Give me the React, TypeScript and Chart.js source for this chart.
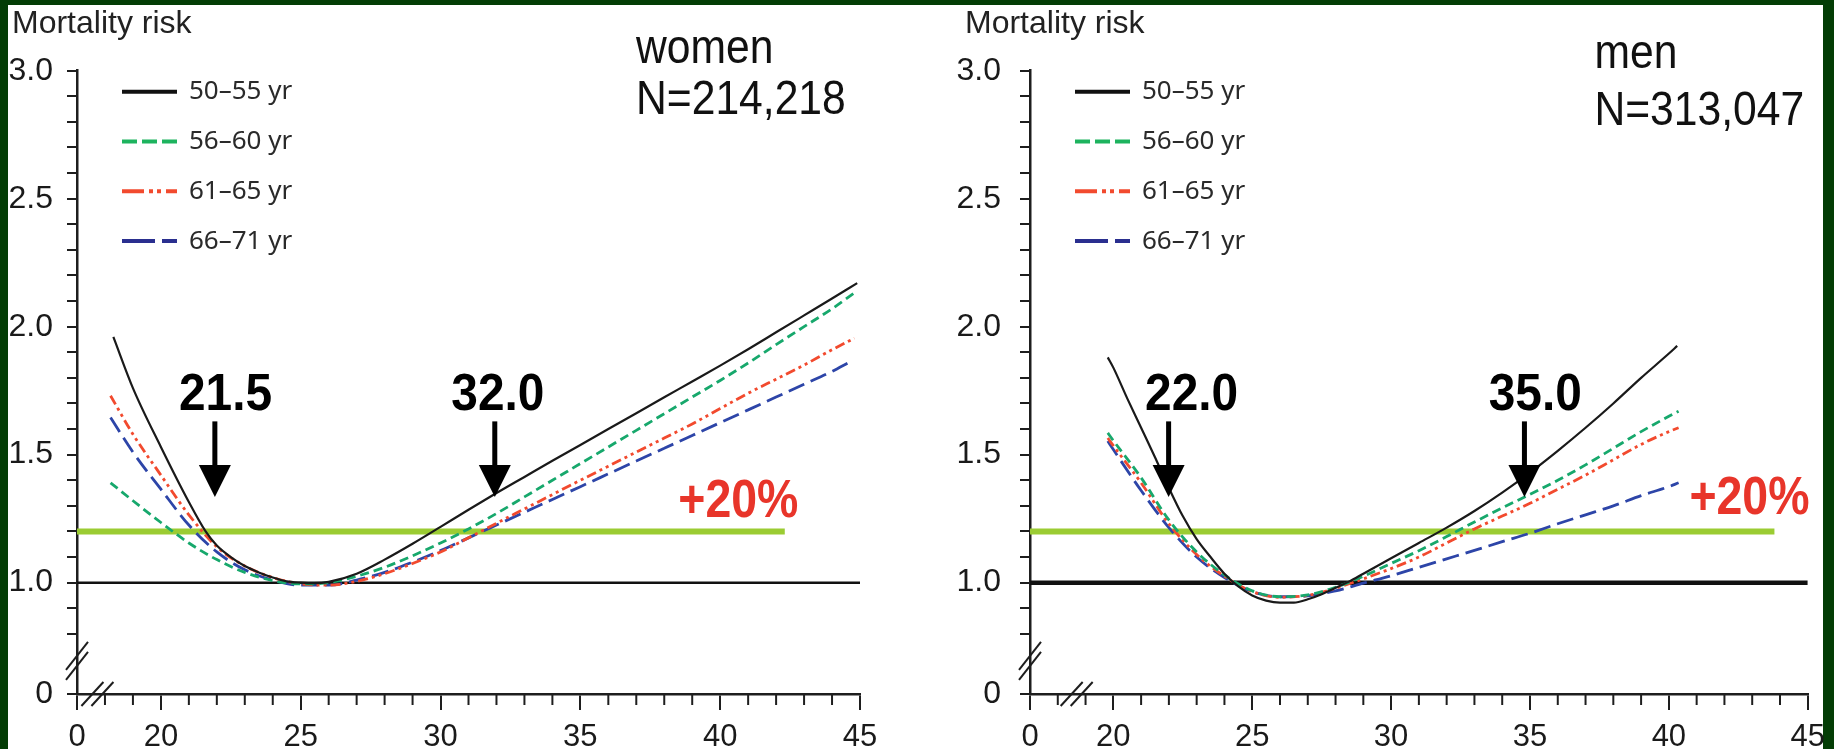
import React, { useEffect, useRef } from 'react';
import { Chart, registerables } from 'chart.js';

Chart.register(...registerables);

// ---------- axis definitions ----------
const Y_ZERO_POS = 0.565; // where the "0" label sits on the broken y axis
const Y_MINOR_TICKS = [0.8, 0.9, 1.0, 1.1, 1.2, 1.3, 1.4, 1.5, 1.6, 1.7, 1.8, 1.9, 2.0, 2.1, 2.2, 2.3, 2.4, 2.5, 2.6, 2.7, 2.8, 2.9, 3.0];
const Y_LABELED = [1.0, 1.5, 2.0, 2.5, 3.0];
const Y_MAX = 3.0;
const X_ZERO_POS = 17; // where the "0" label sits on the broken x axis
const X_MAJOR = [20, 25, 30, 35, 40, 45];
const X_MAX = 45;
const Y_BREAK = 0.694;

const SERIES_LABELS = ['50–55 yr', '56–60 yr', '61–65 yr', '66–71 yr'];

// ---------- women ----------
const W_X_5055 = [18.3, 19, 20, 21, 21.6, 22, 22.5, 23, 23.5, 24, 24.5, 25, 25.5, 26, 27, 28, 29, 30, 31, 32, 33, 34, 35, 36, 37, 38, 39, 40, 41, 42, 43, 44, 44.9];
const W_Y_5055 = [1.96, 1.76, 1.53, 1.315, 1.2, 1.145, 1.1, 1.065, 1.04, 1.02, 1.005, 1.0, 0.998, 1.003, 1.035, 1.09, 1.152, 1.218, 1.285, 1.35, 1.413, 1.476, 1.538, 1.6, 1.662, 1.724, 1.786, 1.848, 1.912, 1.978, 2.044, 2.11, 2.17];

const W_X_5660 = [18.2, 19, 20, 21, 22, 23, 24, 25, 26, 27, 28, 29, 30, 31, 32, 33, 34, 35, 36, 37, 38, 39, 40, 41, 42, 43, 44, 44.9];
const W_Y_5660 = [1.39, 1.32, 1.235, 1.155, 1.09, 1.04, 1.008, 0.995, 1.0, 1.025, 1.06, 1.105, 1.155, 1.21, 1.27, 1.335, 1.4, 1.465, 1.53, 1.595, 1.66, 1.725, 1.79, 1.858, 1.93, 2.0, 2.07, 2.14];

const W_X_6165 = [18.2, 19, 20, 21, 22, 23, 24, 25, 26, 27, 28, 29, 30, 31, 32, 33, 34, 35, 36, 37, 38, 39, 40, 41, 42, 43, 44, 44.8];
const W_Y_6165 = [1.73, 1.58, 1.42, 1.265, 1.14, 1.065, 1.02, 0.995, 0.99, 1.005, 1.035, 1.075, 1.12, 1.175, 1.232, 1.288, 1.344, 1.4, 1.455, 1.51, 1.565, 1.62, 1.68, 1.74, 1.795, 1.85, 1.91, 1.955];

const W_X_6671 = [18.2, 19, 20, 21, 22, 23, 24, 25, 26, 27, 28, 29, 30, 31, 32, 33, 34, 35, 36, 37, 38, 39, 40, 41, 42, 43, 44, 44.6];
const W_Y_6671 = [1.645, 1.51, 1.365, 1.225, 1.12, 1.05, 1.01, 0.99, 0.99, 1.01, 1.04, 1.08, 1.125, 1.175, 1.225, 1.275, 1.325, 1.375, 1.425, 1.475, 1.525, 1.575, 1.625, 1.675, 1.725, 1.775, 1.825, 1.86];

// ---------- men ----------
const M_X_5055 = [19.8, 20, 20.5, 21, 21.5, 22, 22.5, 23, 23.5, 24, 24.5, 25, 25.5, 26, 26.5, 27, 27.5, 28, 28.5, 29, 30, 31, 32, 33, 34, 35, 36, 37, 38, 39, 40, 40.3];
const M_Y_5055 = [1.88, 1.84, 1.72, 1.605, 1.49, 1.37, 1.26, 1.17, 1.1, 1.035, 0.985, 0.95, 0.93, 0.922, 0.922, 0.935, 0.955, 0.98, 1.005, 1.035, 1.095, 1.155, 1.215, 1.28, 1.352, 1.43, 1.515, 1.605, 1.7, 1.8, 1.895, 1.925];

const M_X_5660 = [19.8, 20, 21, 22, 23, 24, 25, 26, 27, 28, 29, 30, 31, 32, 33, 34, 35, 36, 37, 38, 39, 40, 40.35];
const M_Y_5660 = [1.585, 1.555, 1.41, 1.245, 1.12, 1.03, 0.968, 0.945, 0.952, 0.982, 1.025, 1.075, 1.125, 1.18, 1.237, 1.292, 1.345, 1.4, 1.46, 1.525, 1.59, 1.65, 1.67];

const M_X_6165 = [19.8, 20, 21, 22, 23, 24, 25, 26, 27, 28, 29, 30, 31, 32, 33, 34, 35, 36, 37, 38, 39, 40, 40.35];
const M_Y_6165 = [1.565, 1.535, 1.39, 1.23, 1.11, 1.025, 0.965, 0.943, 0.95, 0.978, 1.015, 1.055, 1.1, 1.155, 1.21, 1.26, 1.31, 1.365, 1.42, 1.48, 1.54, 1.59, 1.605];

const M_X_6671 = [19.8, 20, 21, 22, 23, 24, 25, 26, 27, 28, 29, 30, 31, 32, 33, 34, 35, 36, 37, 38, 39, 40, 40.35];
const M_Y_6671 = [1.553, 1.52, 1.36, 1.215, 1.1, 1.02, 0.965, 0.945, 0.948, 0.968, 0.998, 1.027, 1.06, 1.093, 1.126, 1.16, 1.193, 1.23, 1.265, 1.3, 1.34, 1.375, 1.39];

// ---------- reference levels & annotations ----------
const REF_LEVEL = 1.0;
const PLUS20_LEVEL = 1.2;
const W_PLUS20_END = 42.31;
const M_PLUS20_END = 43.8;

const W_ARROW_X = [21.93, 31.94];
const W_ARROW_TEXT = ['21.5', '32.0'];
const W_ARROW_TEXT_X = [22.31, 32.05];
const M_ARROW_X = [21.99, 34.8];
const M_ARROW_TEXT = ['22.0', '35.0'];
const M_ARROW_TEXT_X = [22.82, 35.19];
const ARROW_SHAFT_TOP = 1.63;
const ARROW_HEAD_TOP = 1.46;
const ARROW_TIP = 1.335;
const ARROW_TEXT_BASE = 1.675;

const PCT_TEXT = '+20%';
const W_PCT_POS = [40.65, 1.258];
const M_PCT_POS = [42.9, 1.27];

const Y_TITLE = 'Mortality risk';
const W_GROUP = ['women', 'N=214,218'];
const M_GROUP = ['men', 'N=313,047'];
const W_GROUP_POS = [36.99, 3.03, 2.83];
const M_GROUP_POS = [37.32, 3.01, 2.787];

const W_X_BREAK = 17.73;
const M_X_BREAK = 18.68;

// ---------- styles ----------
const FONT = "'Liberation Sans', Arial, Helvetica, sans-serif";
const AXIS_COLOR = '#1e1e1e';
const SERIES_COLORS = ['#1a1a1a', '#17a86c', '#f24a2e', '#2d45a8'];
const SERIES_WIDTHS = [2.2, 2.8, 2.8, 2.8];
const SERIES_DASH = [[], [9, 5], [10, 4, 3, 4, 3, 4], [17, 7]];
const LEGEND_DASH = [[], [15, 5], [22, 5, 4, 4, 4, 5], [33, 7]];
const LEGEND_COLORS = ['#111111', '#1db35e', '#f24a2e', '#2a2f8f'];
const PLUS20_COLOR = '#9bcc33';
const PCT_COLOR = '#e8352a';

type Panel = {
  xs: number[][];
  ys: number[][];
  plusEnd: number;
  refWidth: number;
  axisBox: number;
  padRight: number;
  yLabelPad: number;
  arrowX: number[];
  arrowText: string[];
  arrowTextX: number[];
  pctPos: number[];
  group: string[];
  groupPos: number[];
  xBreak: number;
};

const WOMEN: Panel = {
  xs: [W_X_5055, W_X_5660, W_X_6165, W_X_6671],
  ys: [W_Y_5055, W_Y_5660, W_Y_6165, W_Y_6671],
  plusEnd: W_PLUS20_END,
  refWidth: 2.5,
  axisBox: 77,
  padRight: 57,
  yLabelPad: 14,
  arrowX: W_ARROW_X,
  arrowText: W_ARROW_TEXT,
  arrowTextX: W_ARROW_TEXT_X,
  pctPos: W_PCT_POS,
  group: W_GROUP,
  groupPos: W_GROUP_POS,
  xBreak: W_X_BREAK,
};

const MEN: Panel = {
  xs: [M_X_5055, M_X_5660, M_X_6165, M_X_6671],
  ys: [M_Y_5055, M_Y_5660, M_Y_6165, M_Y_6671],
  plusEnd: M_PLUS20_END,
  refWidth: 4.5,
  axisBox: 113,
  padRight: 23,
  yLabelPad: 19,
  arrowX: M_ARROW_X,
  arrowText: M_ARROW_TEXT,
  arrowTextX: M_ARROW_TEXT_X,
  pctPos: M_PCT_POS,
  group: M_GROUP,
  groupPos: M_GROUP_POS,
  xBreak: M_X_BREAK,
};

function drawText(ctx: CanvasRenderingContext2D, text: string, x: number, y: number, font: string, color: string, align: CanvasTextAlign, sx: number, baseline: CanvasTextBaseline = 'alphabetic') {
  ctx.save();
  ctx.translate(x, y);
  ctx.scale(sx, 1);
  ctx.font = font;
  ctx.fillStyle = color;
  ctx.textAlign = align;
  ctx.textBaseline = baseline;
  ctx.fillText(text, 0, 0);
  ctx.restore();
}

function makeChart(canvas: HTMLCanvasElement, p: Panel) {
  const seriesSets = p.xs.map((xs, i) => ({
    label: SERIES_LABELS[i],
    data: xs.map((x, j) => ({ x, y: p.ys[i][j] })),
    borderColor: SERIES_COLORS[i],
    borderWidth: SERIES_WIDTHS[i],
    borderDash: SERIES_DASH[i],
    pointRadius: 0,
    cubicInterpolationMode: 'monotone' as const,
    fill: false,
    order: 1,
  }));

  const decor = {
    id: 'decor',
    afterDatasetsDraw(chart: any) {
      const ctx: CanvasRenderingContext2D = chart.ctx;
      const xs = chart.scales.x;
      const ys = chart.scales.y;
      const area = chart.chartArea;
      ctx.save();
      // minor x ticks
      ctx.strokeStyle = AXIS_COLOR;
      ctx.lineWidth = 2;
      for (let v = Math.ceil(X_ZERO_POS) + 1; v < X_MAX; v++) {
        if (v % 5 === 0) continue;
        const px = xs.getPixelForValue(v);
        ctx.beginPath();
        ctx.moveTo(px, area.bottom);
        ctx.lineTo(px, area.bottom + 11);
        ctx.stroke();
      }
      // axis breaks
      ctx.lineWidth = 2;
      const by = ys.getPixelForValue(Y_BREAK);
      for (const off of [-5, 5]) {
        ctx.beginPath();
        ctx.moveTo(area.left - 11, by + 14 + off);
        ctx.lineTo(area.left + 11, by - 14 + off);
        ctx.stroke();
      }
      const bx = xs.getPixelForValue(p.xBreak);
      for (const off of [-5, 5]) {
        ctx.beginPath();
        ctx.moveTo(bx - 11 + off, area.bottom + 12);
        ctx.lineTo(bx + 11 + off, area.bottom - 12);
        ctx.stroke();
      }
      // arrows
      ctx.fillStyle = '#000';
      p.arrowX.forEach((ax, i) => {
        const px = xs.getPixelForValue(ax);
        const yTop = ys.getPixelForValue(ARROW_SHAFT_TOP);
        const yHead = ys.getPixelForValue(ARROW_HEAD_TOP);
        const yTip = ys.getPixelForValue(ARROW_TIP);
        ctx.fillRect(px - 2.5, yTop, 5, yHead - yTop + 1);
        ctx.beginPath();
        ctx.moveTo(px - 16, yHead);
        ctx.lineTo(px + 16, yHead);
        ctx.lineTo(px, yTip);
        ctx.closePath();
        ctx.fill();
        drawText(ctx, p.arrowText[i], xs.getPixelForValue(p.arrowTextX[i]), ys.getPixelForValue(ARROW_TEXT_BASE), `bold 52px ${FONT}`, '#000', 'center', 0.92);
      });
      // +20%
      drawText(ctx, PCT_TEXT, xs.getPixelForValue(p.pctPos[0]), ys.getPixelForValue(p.pctPos[1]), `bold 54px ${FONT}`, PCT_COLOR, 'center', 0.86);
      // group title
      const gx = xs.getPixelForValue(p.groupPos[0]);
      drawText(ctx, p.group[0], gx, ys.getPixelForValue(p.groupPos[1]), `49px ${FONT}`, '#111', 'left', 0.87);
      drawText(ctx, p.group[1], gx, ys.getPixelForValue(p.groupPos[2]), `49px ${FONT}`, '#111', 'left', 0.87);
      // y title
      drawText(ctx, Y_TITLE, area.left - 65, 33, `32px ${FONT}`, '#222', 'left', 1);
      // legend
      for (let i = 0; i < SERIES_LABELS.length; i++) {
        const ly = area.top + 21 + i * 49.8;
        const lx = area.left + 45;
        ctx.strokeStyle = LEGEND_COLORS[i];
        ctx.lineWidth = 4;
        ctx.setLineDash(LEGEND_DASH[i]);
        ctx.beginPath();
        ctx.moveTo(lx, ly);
        ctx.lineTo(lx + 55, ly);
        ctx.stroke();
        ctx.setLineDash([]);
        drawText(ctx, SERIES_LABELS[i], lx + 67, ly, `26px 'Noto Sans', ${FONT}`, '#2a2a2a', 'left', 1, 'middle');
      }
      ctx.restore();
    },
  };

  return new Chart(canvas, {
    type: 'line',
    data: {
      datasets: [
        ...seriesSets,
        {
          label: 'plus20',
          data: [{ x: X_ZERO_POS, y: PLUS20_LEVEL }, { x: p.plusEnd, y: PLUS20_LEVEL }],
          borderColor: PLUS20_COLOR,
          borderWidth: 6,
          pointRadius: 0,
          order: 6,
        },
        {
          label: 'ref',
          data: [{ x: X_ZERO_POS, y: REF_LEVEL }, { x: X_MAX, y: REF_LEVEL }],
          borderColor: '#111',
          borderWidth: p.refWidth,
          pointRadius: 0,
          order: 5,
        },
      ] as any,
    },
    options: {
      responsive: false,
      animation: false,
      devicePixelRatio: 1,
      events: [],
      layout: { padding: { left: 0, right: p.padRight, top: 70.7, bottom: 0 } },
      plugins: { legend: { display: false }, tooltip: { enabled: false }, title: { display: false } },
      scales: {
        x: {
          type: 'linear',
          min: X_ZERO_POS,
          max: X_MAX,
          bounds: 'data',
          afterFit: (s: any) => { s.height = 55; },
          afterBuildTicks: (s: any) => {
            s.ticks = [X_ZERO_POS, ...X_MAJOR].map((v) => ({ value: v }));
            s.min = X_ZERO_POS;
            s.max = X_MAX;
          },
          ticks: {
            autoSkip: false,
            maxRotation: 0,
            padding: 9,
            color: '#1a1a1a',
            font: { family: FONT, size: 31 },
            callback: (v: any) => (Math.abs(v - X_ZERO_POS) < 1e-6 ? '0' : String(v)),
          },
          grid: { drawOnChartArea: false, drawTicks: true, tickLength: 16, color: AXIS_COLOR, lineWidth: 2 },
          border: { display: true, color: AXIS_COLOR, width: 2.5 },
        },
        y: {
          type: 'linear',
          min: Y_ZERO_POS,
          max: Y_MAX,
          bounds: 'data',
          afterFit: (s: any) => { s.width = p.axisBox; },
          afterBuildTicks: (s: any) => {
            s.ticks = [Y_ZERO_POS, ...Y_MINOR_TICKS].map((v) => ({ value: v }));
            s.min = Y_ZERO_POS;
            s.max = Y_MAX;
          },
          ticks: {
            autoSkip: false,
            padding: p.yLabelPad,
            color: '#1a1a1a',
            font: { family: FONT, size: 32 },
            callback: (v: any) => {
              if (Math.abs(v - Y_ZERO_POS) < 1e-6) return '0';
              return Y_LABELED.some((l) => Math.abs(l - v) < 1e-6) ? Number(v).toFixed(1) : '';
            },
          },
          grid: { drawOnChartArea: false, drawTicks: true, tickLength: 10, color: AXIS_COLOR, lineWidth: 2 },
          border: { display: true, color: AXIS_COLOR, width: 2.5 },
        },
      },
    } as any,
    plugins: [decor],
  });
}

export default function App() {
  const leftRef = useRef<HTMLCanvasElement>(null);
  const rightRef = useRef<HTMLCanvasElement>(null);
  useEffect(() => {
    const charts = [makeChart(leftRef.current!, WOMEN), makeChart(rightRef.current!, MEN)];
    return () => charts.forEach((c) => c.destroy());
  }, []);
  const canvasStyle = (left: number): React.CSSProperties => ({ position: 'absolute', left, top: 0, width: 917, height: 749 });
  return (
    <div style={{ position: 'absolute', left: 0, top: 0, width: 1834, height: 749, background: '#033d05', overflow: 'hidden' }}>
      <div style={{ position: 'absolute', left: 8, top: 5, width: 1815, height: 744, background: '#ffffff' }} />
      <canvas ref={leftRef} width={917} height={749} style={canvasStyle(0)} />
      <canvas ref={rightRef} width={917} height={749} style={canvasStyle(917)} />
    </div>
  );
}
